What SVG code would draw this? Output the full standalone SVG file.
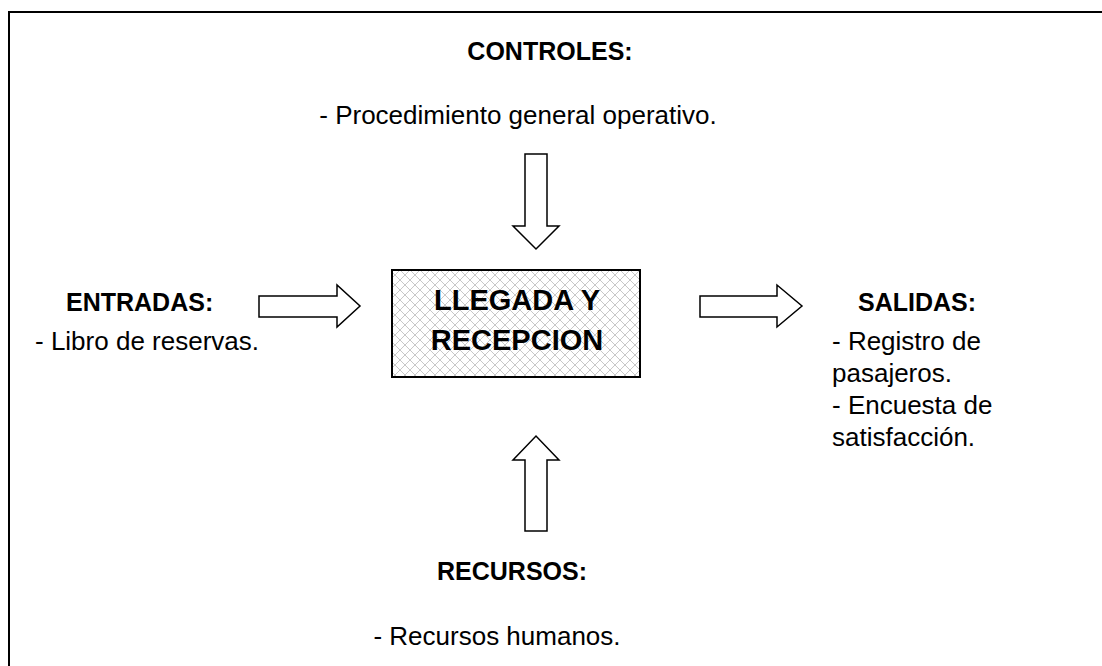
<svg xmlns="http://www.w3.org/2000/svg" width="1102" height="666" viewBox="0 0 1102 666">
<style>
.b{font-family:"Liberation Sans",Arial,sans-serif;font-weight:bold;font-size:25px;fill:#000}
.r{font-family:"Liberation Sans",Arial,sans-serif;font-size:26px;fill:#000}
.big{font-family:"Liberation Sans",Arial,sans-serif;font-weight:bold;font-size:29px;fill:#000}
.arr{fill:#fff;stroke:#000;stroke-width:1.5}
</style>
<defs>
<pattern id="hatch" width="10" height="10" patternUnits="userSpaceOnUse">
<rect width="10" height="10" fill="#fff"/>
<path d="M0,0 L10,10 M10,0 L0,10" stroke="#c8c8c8" stroke-width="1"/>
</pattern>
</defs>
<rect x="0" y="0" width="1102" height="666" fill="#fff"/>
<path d="M9,666 V12 H1102" fill="none" stroke="#000" stroke-width="2"/>
<g id="proceso">
<rect x="392" y="270" width="248" height="107" fill="url(#hatch)" stroke="#000" stroke-width="2"/>
<text class="big" x="517" y="310" text-anchor="middle">LLEGADA Y</text>
<text class="big" x="517" y="350" text-anchor="middle">RECEPCION</text>
</g>
<g id="controles">
<text class="b" x="550" y="60" text-anchor="middle">CONTROLES:</text>
<text class="r" x="518" y="124" text-anchor="middle">- Procedimiento general operativo.</text>
</g>
<g id="entradas">
<text class="b" x="66" y="311">ENTRADAS:</text>
<text class="r" x="35" y="350">- Libro de reservas.</text>
</g>
<g id="salidas">
<text class="b" x="858" y="311">SALIDAS:</text>
<text class="r" x="832" y="350">- Registro de</text>
<text class="r" x="832" y="382">pasajeros.</text>
<text class="r" x="832" y="414">- Encuesta de</text>
<text class="r" x="832" y="446">satisfacción.</text>
</g>
<g id="recursos">
<text class="b" x="512" y="580" text-anchor="middle">RECURSOS:</text>
<text class="r" x="497" y="645" text-anchor="middle">- Recursos humanos.</text>
</g>
<g id="connectors">
<path class="arr" d="M525,154 H547 V226 H559 L536,249 L513,226 H525 Z"/>
<path class="arr" d="M525,531 H547 V460 H559 L536,436 L513,460 H525 Z"/>
<path class="arr" d="M259,296 H337 V285 L360,306 L337,327 V317 H259 Z"/>
<path class="arr" d="M700,296 H777 V285 L802,306 L777,327 V317 H700 Z"/>
</g>
</svg>
